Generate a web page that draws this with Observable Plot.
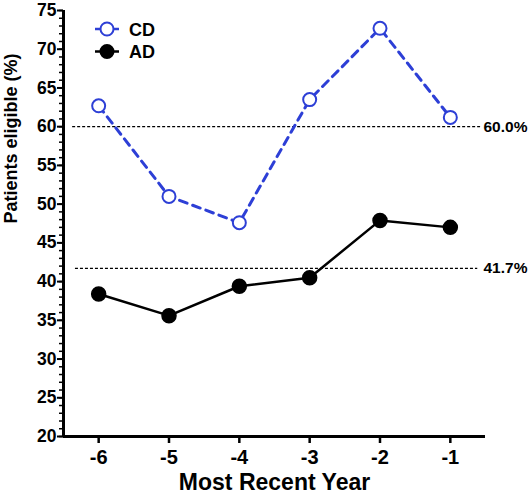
<!DOCTYPE html>
<html>
<head>
<meta charset="utf-8">
<script src="https://cdn.jsdelivr.net/npm/d3@7"></script>
<script src="https://cdn.jsdelivr.net/npm/@observablehq/plot@0.6"></script>
<style>
  html, body { margin: 0; padding: 0; background: #fff; }
  #wrap { position: relative; width: 531px; height: 499px; }
  #legend { position: absolute; left: 0; top: 0; }
</style>
</head>
<body>
<div id="wrap"></div>
<script>
// ---- data ----
const years = [-6, -5, -4, -3, -2, -1];
const cdValues = [62.7, 51.0, 47.6, 63.5, 72.7, 61.2];
const adValues = [38.4, 35.6, 39.4, 40.5, 47.9, 47.0];
const seriesNames = ["CD", "AD"];
const refValues = [60.0, 41.7];
const refLabels = ["60.0%", "41.7%"];
const yMajorTicks = d3.range(20, 80, 5);
const yMinorTicks = d3.range(20, 76, 1);

const BLUE = "#2d3fd6";
const FONT = "'Liberation Sans', Arial, Helvetica, sans-serif";

const cd = years.map((x, i) => ({x, y: cdValues[i]}));
const ad = years.map((x, i) => ({x, y: adValues[i]}));
const refs = refValues.map((v, i) => ({v, label: refLabels[i], x1: i === 0 ? -6.37 : -6.33, x2: i === 0 ? -0.57 : -0.61}));
const plain = d => String(d);

const chart = Plot.plot({
  width: 531,
  height: 499,
  marginLeft: 63,
  marginRight: 46,
  marginTop: 10,
  marginBottom: 63,
  style: {fontFamily: FONT, fontWeight: "bold", color: "#000", background: "#fff"},
  x: {domain: [-6.5, -0.5]},
  y: {domain: [20, 75]},
  marks: [
    // minor y ticks
    Plot.axisY({ticks: yMinorTicks, tickSize: 4, tickFormat: () => "", label: null, strokeWidth: 1.5}),
    // major y ticks
    Plot.axisY({ticks: yMajorTicks, tickSize: 6, tickPadding: 1, tickFormat: plain, label: null, strokeWidth: 2, fontSize: 17.5, fontWeight: "bold"}),
    // x ticks
    Plot.axisX({ticks: years, tickSize: 7, tickPadding: 6, tickFormat: plain, label: null, strokeWidth: 2.5, fontSize: 20, fontWeight: "bold"}),
    // axis lines
    Plot.ruleX([-6.5], {y1: 20, y2: 75, strokeWidth: 3}),
    Plot.ruleY([20], {x1: -6.5, x2: -0.5, strokeWidth: 3}),
    // reference lines
    Plot.ruleY(refs, {y: "v", x1: "x1", x2: "x2", stroke: "#000", strokeWidth: 1.3, strokeDasharray: "3,2"}),
    Plot.text(refs, {x: -0.5, y: "v", text: "label", textAnchor: "start", dx: -2, fontSize: 15.5, fontWeight: "bold"}),
    // series
    Plot.line(ad, {x: "x", y: "y", stroke: "#000", strokeWidth: 2.5}),
    Plot.dot(ad, {x: "x", y: "y", r: 7, fill: "#000", stroke: "#000"}),
    Plot.line(cd, {x: "x", y: "y", stroke: BLUE, strokeWidth: 3, strokeDasharray: "8,6"}),
    Plot.dot(cd, {x: "x", y: "y", r: 6.5, fill: "#fff", stroke: BLUE, strokeWidth: 2}),
    // axis titles
    Plot.text(["Most Recent Year"], {frameAnchor: "bottom", text: d => d, dy: 53, fontSize: 23, fontWeight: "bold"}),
    Plot.text(["Patients eligible (%)"], {frameAnchor: "left", text: d => d, dx: -52, rotate: -90, fontSize: 18, fontWeight: "bold"})
  ]
});

const wrap = document.getElementById("wrap");
wrap.appendChild(chart);

// legend overlay
const legendItems = [
  {name: seriesNames[0], color: BLUE, fill: "#fff"},
  {name: seriesNames[1], color: "#000", fill: "#000"}
];
const svg = d3.select(wrap).append("svg")
  .attr("id", "legend").attr("width", 531).attr("height", 499)
  .style("pointer-events", "none");
legendItems.forEach((d, i) => {
  const cy = 29 + i * 22.5;
  const g = svg.append("g");
  g.append("line").attr("x1", 95).attr("x2", 119).attr("y1", cy).attr("y2", cy)
    .attr("stroke", d.color).attr("stroke-width", 2.5);
  g.append("circle").attr("cx", 107).attr("cy", cy).attr("r", 6.5)
    .attr("fill", d.fill).attr("stroke", d.color).attr("stroke-width", 2);
  g.append("text").attr("x", 129).attr("y", cy + 6.5)
    .attr("font-family", FONT).attr("font-weight", "bold").attr("font-size", 18)
    .attr("fill", "#000").text(d.name);
});
</script>
</body>
</html>
